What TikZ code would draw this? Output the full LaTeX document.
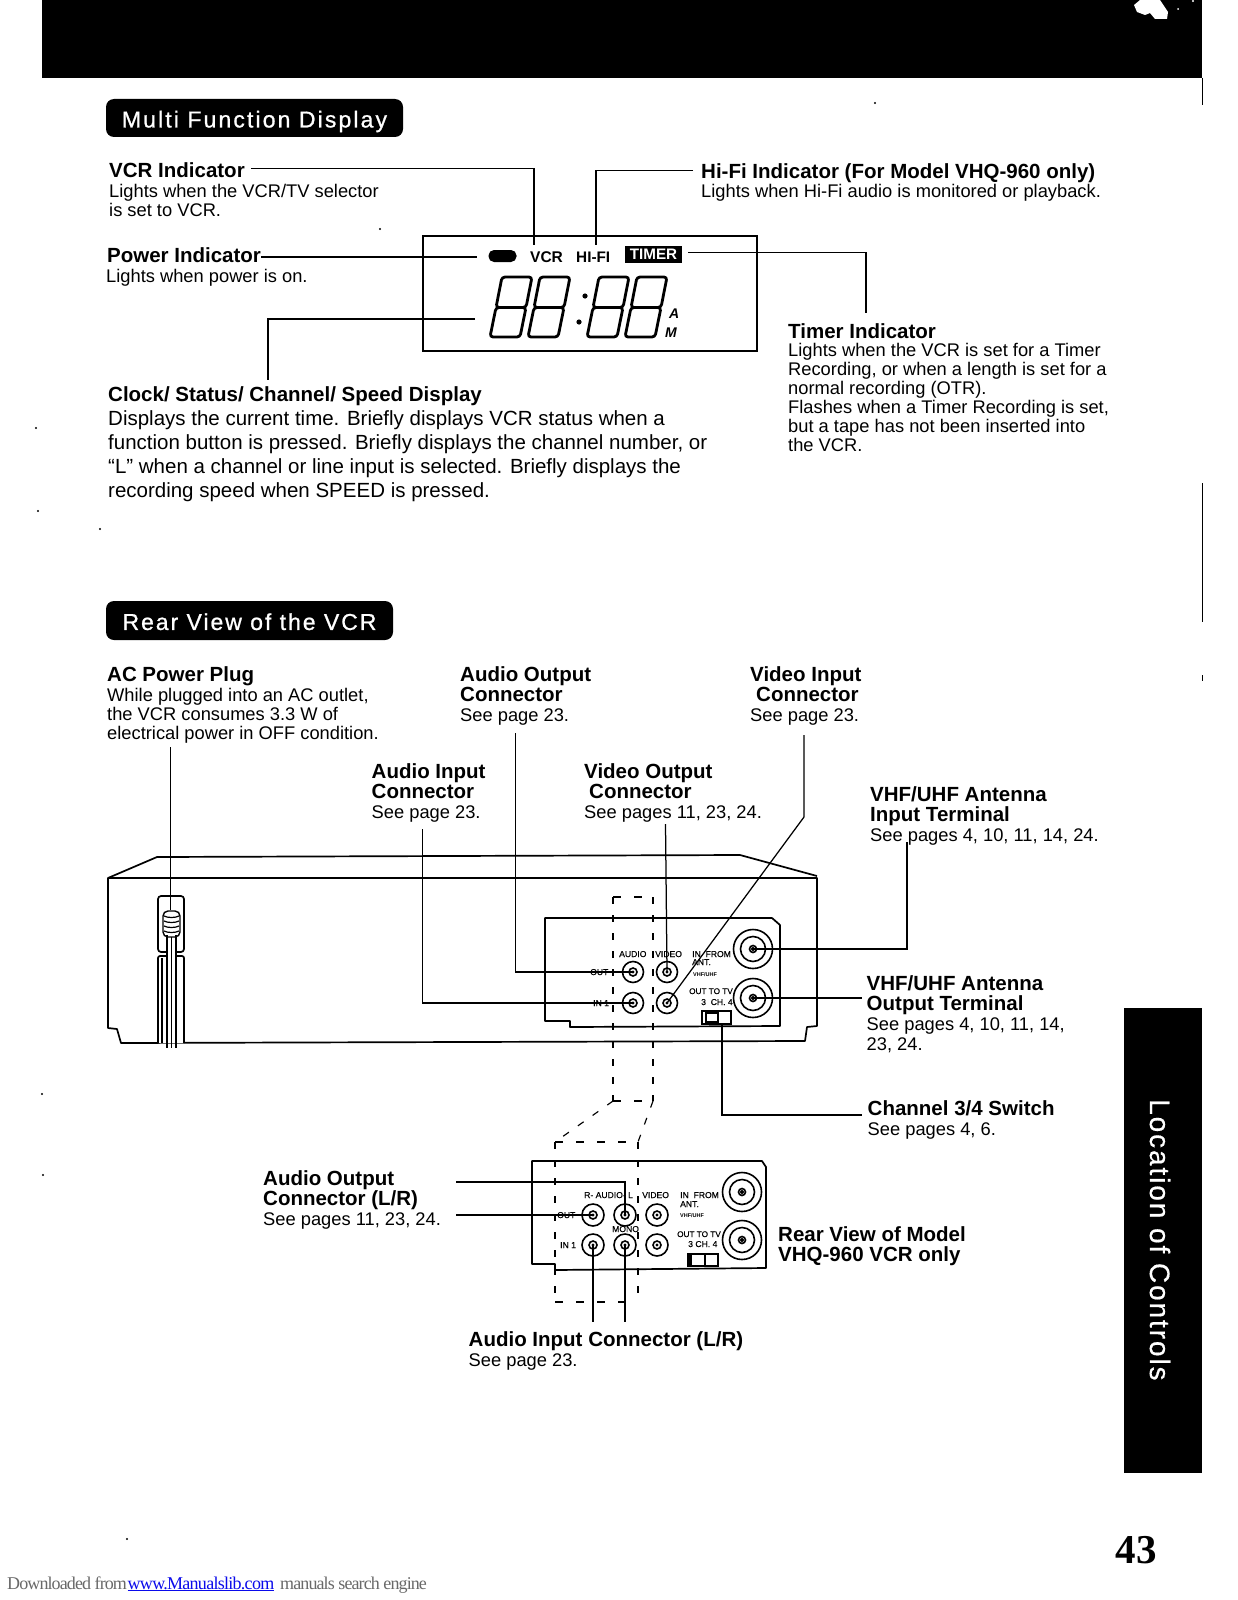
\documentclass[tikz,border=0pt]{standalone}
\usepackage{fontspec}
\setmainfont{Liberation Sans}
\newfontfamily\pnfont{Liberation Serif}
\definecolor{linkblue}{RGB}{10,10,235}
\definecolor{footgray}{RGB}{105,105,105}
\newcommand\ml[1]{\begin{tabular}[t]{@{}l@{}}#1\end{tabular}}
\newcommand\hd[1]{\smash{\fontsize{20.5}{20}\selectfont\bfseries #1}}
\newcommand\jack[5]{\node[ring,minimum size=#4] (#1) at (#2,#3) {};\node[ring,minimum size=#5] (#1i) at (#1.center) {};}
\newcommand\antjack[3]{\node[ring,minimum size=39] (#1) at (#2,#3) {};\node[ring,minimum size=25] (#1m) at (#1.center) {};\node[ring,minimum size=7] (#1i) at (#1.center) {};}
\tikzset{
 hdn/.style={anchor=base west,inner sep=0,font=\fontsize{20.5}{20}\selectfont\bfseries},
 bodyt/.style={anchor=base west,inner sep=0,font=\fontsize{18.3}{19}\selectfont},
 bodyl/.style={anchor=base west,inner sep=0,font=\fontsize{20.5}{24.2}\selectfont},
 rearb/.style={anchor=base west,inner sep=0,font=\fontsize{18.3}{20}\selectfont},
 lab/.style={anchor=base west,inner sep=0,font=\fontsize{8.6}{9}\selectfont\addfontfeature{FakeBold=0.3}},
 labs/.style={anchor=base west,inner sep=0,font=\fontsize{5.5}{6}\selectfont\bfseries},
 badge/.style={fill=black,rounded corners=8,text=white,inner sep=0,text height=22.5,text depth=3.6},
 foot/.style={anchor=base west,inner sep=0,text=footgray,font=\pnfont\fontsize{18}{20}\selectfont\addfontfeature{LetterSpace=-5}},
 leader/.style={line width=1.25},
 outline/.style={line width=1.7,line join=round},
 vdash/.style={line width=1.15,dash pattern=on 7pt off 11pt},
 hdash/.style={line width=1.15,dash pattern=on 8pt off 13pt},
 ring/.style={circle,draw,line width=1.6,fill=white,inner sep=0},
 seg/.style={line width=2.8,rounded corners=3,line join=round},
}
\begin{document}
\begin{tikzpicture}[x=1pt,y=-1pt]
\useasboundingbox (0,0) rectangle (1237,1600);
\fill[white] (0,0) rectangle (1237,1600);
% page furniture
\fill[black] (42,0) rectangle (1202,78);
\fill[white] (1134,5) -- (1140,0) -- (1160,0) -- (1168,12) -- (1167,19) -- (1155,19) -- (1150,13) -- (1145,15) -- (1137,12) -- cycle;
\fill[white] (1178,9) circle (1) (1193,1) circle (1.2);
\fill[black] (1124,1008) rectangle (1202,1473);
\draw[line width=.8] (1202,78) -- (1202,105) (1202,483) -- (1202,622) (1202,675) -- (1202,681);
\foreach \sx/\sy in {36/428,38/511,42/1094,43/1175,127/1539,100/529,875/103,380/229}{\fill (\sx,\sy) circle (1.2);}
\node[rotate=-90,text=white,anchor=base west,inner sep=0,font=\fontsize{28}{30}\selectfont\addfontfeature{LetterSpace=6.8,FakeBold=0.5}] (sidetab) at (1150,1099) {Location of Controls};
\node[anchor=base east,inner sep=0,font=\pnfont\fontsize{41}{41}\selectfont\bfseries] (pageno) at (1157,1563) {43};
\node[foot] (ft1) at (7,1589) {Downloaded from};
\node[foot,text=linkblue,font=\pnfont\fontsize{18}{20}\selectfont\addfontfeature{LetterSpace=-4}] (ft2) at (127.5,1589) {\underline{www.Manualslib.com}};
\node[foot] (ft3) at (280,1589) {manuals search engine};
% badges
\node[badge,minimum width=297,minimum height=38,font=\fontsize{23}{24}\selectfont\addfontfeature{LetterSpace=9.2,FakeBold=0.9}] (bd1) at (254.5,118) {Multi Function Display};
\node[badge,minimum width=287,minimum height=39,font=\fontsize{23}{24}\selectfont\addfontfeature{LetterSpace=8.5,FakeBold=0.9}] (bd2) at (249.5,620.5) {Rear View of the VCR};
% MFD box
\node[draw,line width=1.7,inner sep=0,minimum width=334,minimum height=115] (lcd) at (590,293.5) {};
\node[fill=black,rounded corners=5.5,inner sep=0,minimum width=28,minimum height=12] (pill) at (502.5,256) {};
\node[anchor=base west,inner sep=0,font=\fontsize{15.5}{15}\selectfont\bfseries] (lvcr) at (530,262) {VCR};
\node[anchor=base west,inner sep=0,font=\fontsize{15.3}{15}\selectfont\bfseries] (lhifi) at (576,262) {HI-FI};
\node[fill=black,text=white,inner sep=0,minimum width=57,minimum height=17,font=\fontsize{15.2}{15}\selectfont\bfseries] (ltimer) at (653.5,254.5) {TIMER};
\foreach \d in {0,38,97,135}{
 \draw[seg] (490+\d,337) -- (520+\d,337) -- (526+\d,307.5) -- (496+\d,307.5) -- cycle;
 \draw[seg] (496+\d,307.5) -- (526+\d,307.5) -- (532+\d,277) -- (502+\d,277) -- cycle;
}
\fill (585,296) circle (2.6) (579,322) circle (2.6);
\node[anchor=base west,inner sep=0,font=\fontsize{14}{14}\selectfont\bfseries\itshape] (lama) at (669,318) {A};
\node[anchor=base west,inner sep=0,font=\fontsize{14}{14}\selectfont\bfseries\itshape] (lamm) at (665,337) {M};
% MFD texts
\node[hdn] (vcrh) at (109,177.5) {VCR Indicator};
\node[bodyt] (vcrb) at (109,197) {\ml{Lights when the VCR/TV selector\\is set to VCR.}};
\node[hdn] (hifih) at (701,178) {Hi-Fi Indicator (For Model VHQ-960 only)};
\node[bodyt] (hifib) at (701,197) {Lights when Hi-Fi audio is monitored or playback.};
\node[hdn] (powh) at (107,262) {Power Indicator};
\node[bodyt] (powb) at (106,282) {Lights when power is on.};
\node[hdn] (timh) at (788,338) {Timer Indicator};
\node[bodyt] (timb) at (788,356) {\ml{Lights when the VCR is set for a Timer\\Recording, or when a length is set for a\\normal recording (OTR).\\Flashes when a Timer Recording is set,\\but a tape has not been inserted into\\the VCR.}};
\node[hdn] (clkh) at (108,401) {Clock/ Status/ Channel/ Speed Display};
\node[bodyl] (clkb) at (108,425) {\ml{Displays the current time. Briefly displays VCR status when a\\function button is pressed. Briefly displays the channel number, or\\“L” when a channel or line input is selected. Briefly displays the\\recording speed when SPEED is pressed.}};
% MFD leaders
\coordinate (vcrE) at (534,245);
\coordinate (hifiE) at (596,245);
\coordinate (powE) at (477,257);
\coordinate (timK) at (866,252.5);
\coordinate (timE) at (866,313);
\coordinate (clkS) at (475,319);
\coordinate (clkE) at (268,380);
\draw[leader] ([xshift=6pt,yshift=2pt]vcrh.east) -| (vcrE);
\draw[leader] ([xshift=-8pt,yshift=2pt]hifih.west) -| (hifiE);
\draw[leader] (powh.east |- powE) -- (powE);
\draw[leader] ([xshift=6pt]ltimer.east |- timK) -- (timK) -- (timE);
\draw[leader] (clkS) -| (clkE);
% VCR body
\draw[outline] (108,878) -- (157,857) -- (740,855) -- (817,876);
\draw[outline] (108,878) -- (817,878) -- (817,1026) -- (807,1027) -- (805,1041) -- (121,1043) -- (117,1029) -- (108,1028) -- cycle;
% plug
\draw[outline,fill=white,rounded corners=2] (158,1043) -- (158,956) -- (184,956) -- (184,1043);
\draw[outline,rounded corners=3,fill=white] (158,896) rectangle (184,952);
\draw[line width=1.4,rounded corners=5,fill=white] (163,911) rectangle (180,937);
\foreach \ry in {916,921,926,931}{\draw[line width=1.2] (164,\ry) .. controls (168,\ry+2) and (175,\ry+2) .. (179,\ry);}
\fill[white] (168,946) rectangle (175,958);
\draw[line width=1.6] (167,935) -- (167,1048) (176,935) -- (176,1048);
\draw[line width=1.2] (171.5,937) -- (171.5,1048);
\draw[line width=1.2] (162,958) -- (162,1043);
% dashed rectangles
\draw[vdash] (613,897) -- (613,1101);
\draw[vdash] (653,897) -- (653,1101);
\draw[hdash] (613,897) -- (653,897);
\draw[hdash] (613,1101) -- (653,1101);
\draw[vdash] (613,1101) -- (555,1142);
\draw[vdash] (653,1101) -- (638,1142);
\draw[hdash] (555,1142) -- (638,1142);
\draw[hdash] (555,1302) -- (638,1302);
\draw[vdash] (555,1142) -- (555,1302);
\draw[vdash] (638,1142) -- (638,1302);
% rear panel
\draw[outline] (545,918) -- (772,918) -- (780,925) -- (780,1026) -- (570,1027) -- (570,1021) -- (545,1021) -- cycle;
\jack{aout}{633}{972}{21}{8}
\jack{vout}{667}{972}{21}{8}
\jack{ain}{633}{1003}{21}{8}
\jack{vin}{667}{1003}{21}{8}
\antjack{ant1}{753}{949}
\antjack{ant2}{753}{998}
\node[lab] (pa1) at (619,957) {AUDIO};
\node[lab] (pa2) at (655,957) {VIDEO};
\node[lab] (pa3) at (692,957) {IN\ \ FROM};
\node[lab] (pa4) at (692,965) {ANT.};
\node[labs] (pa5) at (693,976) {VHF/UHF};
\node[lab,font=\fontsize{8.2}{9}\selectfont\addfontfeature{FakeBold=0.3}] (pa6) at (689,994) {OUT TO TV};
\node[lab] (pa7) at (701,1005) {3\ \ CH. 4};
\node[lab] (pa8) at (590,975) {OUT};
\node[lab] (pa9) at (593,1006) {IN 1};
\node[draw,line width=1.6,inner sep=0,minimum width=29,minimum height=13,fill=white] (sw1) at (716.5,1017.5) {};
\draw[line width=1.6] (718,1011) -- (718,1024) (706,1013) rectangle (718,1022);
% rear texts
\node[rearb] (acp) at (107,681) {\ml{\hd{AC Power Plug}\\While plugged into an AC outlet,\\[-1pt]the VCR consumes 3.3 W of\\[-1pt]electrical power in OFF condition.}};
\node[rearb] (aoc) at (460,681) {\ml{\hd{Audio Output}\\\hd{Connector}\\See page 23.}};
\node[rearb] (vic) at (750,681) {\ml{\hd{Video Input}\\\hspace*{6pt}\hd{Connector}\\See page 23.}};
\node[rearb] (aic) at (371.5,778) {\ml{\hd{Audio Input}\\\hd{Connector}\\See page 23.}};
\node[rearb] (voc) at (584,778) {\ml{\hd{Video Output}\\\hspace*{5pt}\hd{Connector}\\See pages 11, 23, 24.}};
\node[rearb] (ait) at (870,801) {\ml{\hd{VHF/UHF Antenna}\\\hd{Input Terminal}\\See pages 4, 10, 11, 14, 24.}};
\node[rearb] (aot) at (866.5,990) {\ml{\hd{VHF/UHF Antenna}\\\hd{Output Terminal}\\See pages 4, 10, 11, 14,\\23, 24.}};
\node[rearb] (chs) at (867.5,1115) {\ml{\hd{Channel 3/4 Switch}\\See pages 4, 6.}};
\node[rearb] (aolr) at (263,1185) {\ml{\hd{Audio Output}\\\hd{Connector (L/R)}\\See pages 11, 23, 24.}};
\node[rearb] (rvm) at (778,1241) {\ml{\hd{Rear View of Model}\\\hd{VHQ-960 VCR only}}};
\node[rearb] (ailr) at (468.5,1346) {\ml{\hd{Audio Input Connector (L/R)}\\See page 23.}};
% second panel
\draw[outline] (532,1161) -- (762,1161) -- (766,1167) -- (766,1268) -- (555,1270) -- (555,1264) -- (532,1264) -- cycle;
\jack{b1}{593}{1215}{22}{8}
\jack{b2}{625}{1215}{22}{8}
\jack{b3}{657}{1215}{22}{8}
\jack{b4}{593}{1245}{22}{8}
\jack{b5}{625}{1245}{22}{8}
\jack{b6}{657}{1245}{22}{8}
\antjack{c1}{742}{1192}
\antjack{c2}{742}{1240}
\node[lab] (qa1) at (584,1198) {R- AUDIO- L};
\node[lab] (qa2) at (642,1198) {VIDEO};
\node[lab] (qa3) at (680,1198) {IN\ \ FROM};
\node[lab] (qa4) at (680,1207) {ANT.};
\node[labs] (qa5) at (680,1217) {VHF/UHF};
\node[lab] (qa6) at (557,1218) {OUT};
\node[lab] (qa7) at (612,1232) {MONO};
\node[lab] (qa8) at (560,1248) {IN 1};
\node[lab,font=\fontsize{8.2}{9}\selectfont\addfontfeature{FakeBold=0.3}] (qa9) at (677,1237) {OUT TO TV};
\node[lab] (qa10) at (688,1247) {3 CH. 4};
\node[draw,line width=1.6,inner sep=0,minimum width=30,minimum height=12,fill=white] (sw2) at (703,1260) {};
\draw[line width=1.6] (705,1254) -- (705,1266);
\fill (688,1254) rectangle (692,1266);
% rear leaders
\coordinate (acE) at (170.5,910);
\coordinate (acS) at (170.5,747);
\coordinate (aoS) at (515.5,733);
\coordinate (aiS) at (422.5,829);
\coordinate (voS) at (665.5,824);
\coordinate (viS) at (804,735);
\coordinate (viK) at (804,817);
\coordinate (a1S) at (907,842);
\coordinate (a2E) at (862,998);
\coordinate (swE) at (862,1115);
\coordinate (lo1) at (456,1182);
\coordinate (lo2) at (456,1215);
\coordinate (li1) at (593,1322);
\coordinate (li2) at (625,1322);
\draw[leader] (acS) -- (acE);
\draw[leader] (aoS) |- (aout.center);
\draw[leader] (aiS) |- (ain.center);
\draw[leader] (voS) -- (vout.center);
\draw[leader] (viS) -- (viK) -- (vin.center);
\draw[leader] (a1S) |- (ant1.center);
\draw[leader] (ant2.center) -- (a2E);
\draw[leader] (sw1.south) ++(5.5,0) |- (swE);
\draw[leader] (lo1) -| (b2.center);
\draw[leader] (lo2) -- (b1.center);
\draw[leader] (b4.center) -- (li1);
\draw[leader] (b5.center) -- (li2);
\foreach \jk in {aout,vout,ain,vin,b1,b2,b3,b4,b5,b6}{\fill (\jk.center) circle (1.6);}
\foreach \jk in {ant1,ant2,c1,c2}{\fill (\jk.center) circle (2);}
\end{tikzpicture}
\end{document}
